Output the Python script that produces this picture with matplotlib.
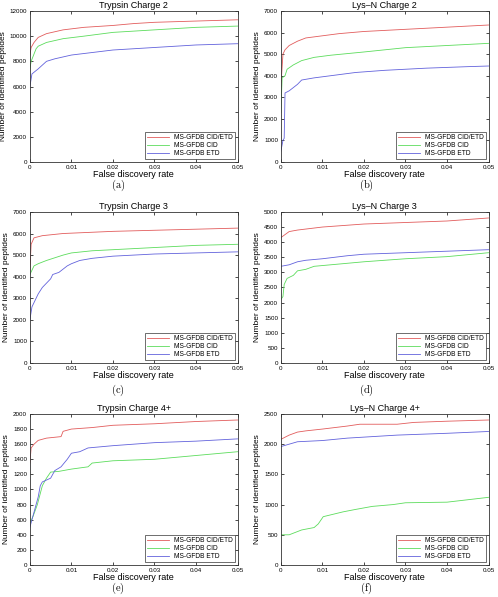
import matplotlib
matplotlib.use("Agg")
import matplotlib.pyplot as plt

# x = false discovery rate, y = number of identified peptides
labels = ["MS-GFDB CID/ETD", "MS-GFDB CID", "MS-GFDB ETD"]
colors = ["#e25c5c", "#5cdc5c", "#6262dc"]
captions = ["(a)", "(b)", "(c)", "(d)", "(e)", "(f)"]
titles = ["Trypsin Charge 2", "Lys\u2013N Charge 2", "Trypsin Charge 3",
          "Lys\u2013N Charge 3", "Trypsin Charge 4+", "Lys\u2013N Charge 4+"]
ymaxes = [12000, 7000, 7000, 5000, 2000, 2500]
ysteps = [2000, 1000, 1000, 500, 200, 500]

# (a) Trypsin Charge 2
a_both_x = [0, 0.0003, 0.001, 0.002, 0.004, 0.008, 0.013, 0.02, 0.025, 0.03, 0.04, 0.05]
a_both_y = [8500, 9100, 9500, 9900, 10200, 10500, 10700, 10850, 11000, 11100, 11200, 11300]
a_cid_x = [0, 0.0003, 0.0015, 0.002, 0.004, 0.008, 0.013, 0.02, 0.03, 0.04, 0.05]
a_cid_y = [7400, 8000, 9000, 9200, 9500, 9800, 10000, 10300, 10500, 10700, 10800]
a_etd_x = [0, 0.0005, 0.002, 0.004, 0.006, 0.01, 0.015, 0.02, 0.03, 0.04, 0.05]
a_etd_y = [6000, 7000, 7400, 8000, 8200, 8500, 8700, 8900, 9100, 9300, 9400]

# (b) Lys-N Charge 2
b_both_x = [0, 0.0005, 0.001, 0.002, 0.004, 0.006, 0.01, 0.014, 0.02, 0.03, 0.04, 0.05]
b_both_y = [3500, 5000, 5200, 5400, 5600, 5750, 5850, 5950, 6050, 6150, 6250, 6350]
b_cid_x = [0, 0.0003, 0.001, 0.0015, 0.003, 0.005, 0.008, 0.012, 0.02, 0.03, 0.04, 0.05]
b_cid_y = [2300, 3900, 4000, 4300, 4500, 4700, 4850, 4950, 5100, 5300, 5400, 5500]
b_etd_x = [0, 0.0005, 0.0008, 0.001, 0.002, 0.004, 0.005, 0.008, 0.012, 0.018, 0.025, 0.035, 0.045, 0.05]
b_etd_y = [500, 1000, 1100, 3200, 3300, 3600, 3800, 3900, 4000, 4150, 4250, 4350, 4420, 4450]

# (c) Trypsin Charge 3
c_both_x = [0, 0.0003, 0.001, 0.003, 0.008, 0.02, 0.03, 0.04, 0.05]
c_both_y = [4300, 5500, 5800, 5900, 6000, 6100, 6150, 6200, 6250]
c_cid_x = [0, 0.001, 0.002, 0.004, 0.008, 0.01, 0.015, 0.02, 0.03, 0.04, 0.05]
c_cid_y = [4100, 4500, 4600, 4750, 5000, 5100, 5200, 5250, 5350, 5450, 5500]
c_etd_x = [0, 0.0005, 0.001, 0.002, 0.003, 0.004, 0.005, 0.0055, 0.007, 0.009, 0.01,
           0.012, 0.015, 0.02, 0.03, 0.04, 0.05]
c_etd_y = [2000, 2600, 2800, 3200, 3500, 3700, 3900, 4100, 4200, 4500, 4600,
           4750, 4850, 4950, 5050, 5100, 5150]

# (d) Lys-N Charge 3
d_both_x = [0, 0.001, 0.002, 0.004, 0.007, 0.01, 0.015, 0.02, 0.03, 0.04, 0.05]
d_both_y = [4150, 4250, 4350, 4400, 4450, 4500, 4550, 4600, 4650, 4700, 4800]
d_cid_x = [0, 0.0005, 0.0008, 0.0015, 0.003, 0.004, 0.006, 0.008, 0.012, 0.016, 0.02,
           0.03, 0.04, 0.05]
d_cid_y = [2100, 2200, 2600, 2800, 2900, 3050, 3100, 3200, 3250, 3300, 3350,
           3450, 3520, 3650]
d_etd_x = [0, 0.002, 0.004, 0.006, 0.01, 0.016, 0.02, 0.03, 0.04, 0.05]
d_etd_y = [3200, 3250, 3350, 3400, 3450, 3550, 3600, 3650, 3700, 3750]

# (e) Trypsin Charge 4+
e_both_x = [0, 0.0003, 0.001, 0.002, 0.004, 0.0075, 0.008, 0.01, 0.015, 0.02, 0.03, 0.04, 0.05]
e_both_y = [1350, 1550, 1600, 1650, 1680, 1700, 1770, 1800, 1820, 1850, 1870, 1900, 1920]
e_cid_x = [0, 0.0008, 0.0018, 0.003, 0.004, 0.005, 0.007, 0.01, 0.014, 0.015, 0.02,
           0.03, 0.04, 0.05]
e_cid_y = [550, 650, 800, 1050, 1150, 1230, 1240, 1270, 1300, 1350, 1380,
           1400, 1450, 1500]
e_etd_x = [0, 0.001, 0.002, 0.0025, 0.003, 0.005, 0.006, 0.0075, 0.009, 0.01, 0.012,
           0.014, 0.02, 0.03, 0.04, 0.05]
e_etd_y = [500, 700, 900, 1050, 1100, 1150, 1250, 1300, 1400, 1480, 1500,
           1550, 1580, 1620, 1640, 1670]

# (f) Lys-N Charge 4+
f_both_x = [0, 0.002, 0.004, 0.006, 0.01, 0.016, 0.019, 0.028, 0.032, 0.04, 0.05]
f_both_y = [2080, 2150, 2200, 2220, 2250, 2300, 2330, 2330, 2360, 2380, 2400]
f_cid_x = [0, 0.002, 0.005, 0.008, 0.009, 0.0102, 0.012, 0.015, 0.018, 0.022, 0.027,
           0.03, 0.04, 0.045, 0.05]
f_cid_y = [500, 500, 580, 620, 680, 800, 830, 880, 920, 970, 1000,
           1030, 1040, 1080, 1120]
f_etd_x = [0, 0.002, 0.004, 0.01, 0.016, 0.028, 0.04, 0.05]
f_etd_y = [1960, 2000, 2040, 2060, 2100, 2150, 2180, 2210]

panels = [
    [(a_both_x, a_both_y), (a_cid_x, a_cid_y), (a_etd_x, a_etd_y)],
    [(b_both_x, b_both_y), (b_cid_x, b_cid_y), (b_etd_x, b_etd_y)],
    [(c_both_x, c_both_y), (c_cid_x, c_cid_y), (c_etd_x, c_etd_y)],
    [(d_both_x, d_both_y), (d_cid_x, d_cid_y), (d_etd_x, d_etd_y)],
    [(e_both_x, e_both_y), (e_cid_x, e_cid_y), (e_etd_x, e_etd_y)],
    [(f_both_x, f_both_y), (f_cid_x, f_cid_y), (f_etd_x, f_etd_y)],
]

xticks = [0, 0.01, 0.02, 0.03, 0.04, 0.05]
xticklabels = ["0", "0.01", "0.02", "0.03", "0.04", "0.05"]


def main():
    plt.rcParams["font.family"] = ["Liberation Sans", "DejaVu Sans"]
    plt.rcParams["mathtext.fontset"] = "cm"
    fig = plt.figure(figsize=(4.98, 5.97), dpi=100)

    lefts = [0.060, 0.564]
    bottoms = [0.7286, 0.392, 0.0536]
    cap_x = [118 / 498, 366 / 498]
    cap_y = [1 - 185 / 597, 1 - 390 / 597, 1 - 588 / 597]

    for i, series in enumerate(panels):
        row, col = divmod(i, 2)
        ax = fig.add_axes([lefts[col], bottoms[row], 0.417, 0.253])
        for (x, y), c, lab in zip(series, colors, labels):
            ax.plot(x, y, color=c, lw=0.6, label=lab)
        ax.set_xlim(0, 0.05)
        ax.set_ylim(0, ymaxes[i])
        ax.set_xticks(xticks)
        ax.set_xticklabels(xticklabels)
        ax.set_yticks(range(0, ymaxes[i] + 1, ysteps[i]))
        ax.tick_params(direction="in", length=2.5, width=0.5, labelsize=4.5,
                       top=True, right=True, pad=2)
        for sp in ax.spines.values():
            sp.set_linewidth(0.6)
            sp.set_color("#333333")
        ax.set_title(titles[i], fontsize=6.5, pad=2)
        ax.set_xlabel("False discovery rate", fontsize=6.5, labelpad=0)
        ax.set_ylabel("Number of identified peptides", fontsize=6, labelpad=2)
        leg = ax.legend(loc="lower right", fontsize=4.8, frameon=True, fancybox=False,
                        handlelength=3.2, borderpad=0.3, labelspacing=0.15,
                        borderaxespad=0.4)
        leg.get_frame().set_edgecolor("black")
        leg.get_frame().set_linewidth(0.5)
        fig.text(cap_x[col], cap_y[row], "$\\mathrm{" + captions[i] + "}$",
                 ha="center", va="center", fontsize=7.5)

    fig.savefig("out.png", dpi=100)


if __name__ == "__main__":
    main()
